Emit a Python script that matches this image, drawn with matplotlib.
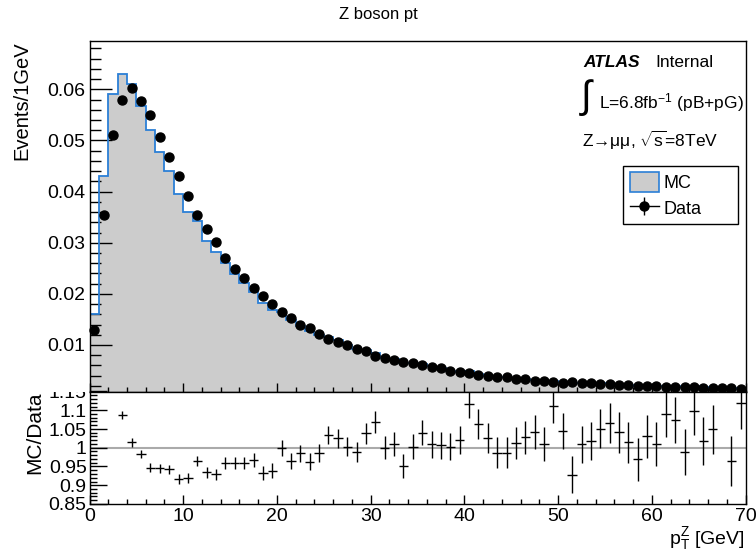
import numpy as np
import matplotlib
matplotlib.use("Agg")
import matplotlib.pyplot as plt
from matplotlib.patches import Patch, Rectangle
from matplotlib.lines import Line2D
from matplotlib.ticker import MultipleLocator, FixedLocator, FixedFormatter

plt.rcParams['font.family'] = ['Liberation Sans', 'DejaVu Sans']
plt.rcParams['mathtext.fontset'] = 'custom'
plt.rcParams['mathtext.rm'] = 'Liberation Sans'
plt.rcParams['mathtext.it'] = 'Liberation Sans:italic'
plt.rcParams['mathtext.bf'] = 'Liberation Sans:bold'

# --- binning: 1 GeV bins from 0 to 70 ---
bin_edges = np.arange(0, 71, 1)
bin_centers = bin_edges[:-1] + 0.5

# data (normalised events / 1 GeV)
data_vals = [
    0.0129, 0.0355, 0.0511, 0.0579, 0.0602, 0.0578, 0.0549, 0.0506, 0.0467, 0.0431,
    0.0392, 0.0355, 0.0326, 0.0302, 0.0271, 0.0249, 0.0231, 0.0211, 0.0196, 0.0180,
    0.0165, 0.0153, 0.0140, 0.0133, 0.0122, 0.0112, 0.0106, 0.0099, 0.0093, 0.0088,
    0.0079, 0.0075, 0.0071, 0.0067, 0.0065, 0.0060, 0.0057, 0.0054, 0.0050, 0.0047,
    0.0045, 0.0041, 0.0039, 0.0037, 0.0037, 0.0034, 0.0033, 0.0030, 0.0030, 0.0027,
    0.0026, 0.0027, 0.0026, 0.0025, 0.0024, 0.0023, 0.0022, 0.0021, 0.0020, 0.0020,
    0.0019, 0.0018, 0.0018, 0.0017, 0.0017, 0.0016, 0.0016, 0.0015, 0.0015, 0.0014,
]

# MC histogram
mc_vals = [
    0.0160, 0.0431, 0.0591, 0.0630, 0.0610, 0.0568, 0.0520, 0.0478, 0.0440, 0.0395,
    0.0361, 0.0343, 0.0304, 0.0281, 0.0260, 0.0239, 0.0222, 0.0204, 0.0183, 0.0169,
    0.0165, 0.0148, 0.0138, 0.0128, 0.0120, 0.0116, 0.0109, 0.0099, 0.0092, 0.0091,
    0.0084, 0.0075, 0.0072, 0.0064, 0.0065, 0.0062, 0.0058, 0.0054, 0.0050, 0.0048,
    0.0050, 0.0044, 0.0040, 0.00365, 0.00365, 0.0034, 0.0034, 0.0031, 0.0030, 0.0030,
    0.0027, 0.0025, 0.0026, 0.0025, 0.0025, 0.0025, 0.0023, 0.0021, 0.0019, 0.0021,
    0.0019, 0.0020, 0.0019, 0.0017, 0.0019, 0.0016, 0.0017, 0.0018, 0.0014, 0.0016,
]

# MC/Data ratio and its error
ratio_vals = [
    1.240, 1.214, 1.157, 1.088, 1.014, 0.983, 0.947, 0.945, 0.943, 0.916,
    0.920, 0.965, 0.934, 0.929, 0.959, 0.959, 0.959, 0.967, 0.932, 0.939,
    1.000, 0.965, 0.985, 0.963, 0.985, 1.034, 1.025, 1.003, 0.989, 1.038,
    1.069, 1.000, 1.010, 0.951, 1.003, 1.040, 1.009, 1.006, 1.003, 1.020,
    1.116, 1.062, 1.025, 0.987, 0.987, 1.012, 1.028, 1.043, 1.010, 1.112,
    1.045, 0.928, 1.009, 1.018, 1.050, 1.066, 1.041, 1.014, 0.969, 1.030,
    1.009, 1.089, 1.074, 0.989, 1.097, 1.017, 1.049, 1.230, 0.965, 1.118,
]
ratio_err = [
    0.006, 0.006, 0.006, 0.011, 0.011, 0.011, 0.011, 0.012, 0.012, 0.013,
    0.013, 0.013, 0.014, 0.015, 0.015, 0.016, 0.017, 0.018, 0.018, 0.019,
    0.021, 0.021, 0.022, 0.023, 0.024, 0.025, 0.026, 0.026, 0.027, 0.028,
    0.030, 0.031, 0.031, 0.032, 0.033, 0.034, 0.035, 0.036, 0.036, 0.037,
    0.038, 0.040, 0.040, 0.042, 0.042, 0.043, 0.044, 0.045, 0.046, 0.047,
    0.048, 0.050, 0.050, 0.051, 0.052, 0.053, 0.054, 0.055, 0.057, 0.058,
    0.059, 0.060, 0.061, 0.062, 0.063, 0.064, 0.065, 0.066, 0.067, 0.068,
]

y_ticks_top = [0.01, 0.02, 0.03, 0.04, 0.05, 0.06]
y_ticklabels_top = ["0.01", "0.02", "0.03", "0.04", "0.05", "0.06"]
y_ticks_ratio = [0.85, 0.9, 0.95, 1.0, 1.05, 1.1, 1.15]
y_ticklabels_ratio = ["0.85", "0.9", "0.95", "1", "1.05", "1.1", "1.15"]

# --- canvas layout (pixel helpers) ---
W, H = 756, 551
def fx(x):
    return x / W
def fy(y):
    return 1 - y / H

fig = plt.figure(figsize=(W / 100, H / 100), dpi=100)
fig.patch.set_facecolor("white")

x0, x1 = 89.5, 745.5
top_y0, top_y1 = 41.3, 391.5
rat_y1 = 504.0
ax = fig.add_axes([fx(x0), fy(top_y1), (x1 - x0) / W, (top_y1 - top_y0) / H])
rax = fig.add_axes([fx(x0), fy(rat_y1), (x1 - x0) / W, (rat_y1 - top_y1) / H])

mc_fill = "#cccccc"
mc_line = "#2b7fd6"

# --- top pad ---
ax.stairs(mc_vals, bin_edges, fill=True, color=mc_fill, zorder=1)
ax.stairs(mc_vals, bin_edges, color=mc_line, lw=1.3, zorder=2)
ax.plot(bin_centers, data_vals, 'o', color='black', ms=6.5, zorder=3, clip_on=False)

ax.set_xlim(0, 70)
ax.set_ylim(0.0009, 0.0694)
ax.yaxis.set_major_locator(FixedLocator(y_ticks_top))
ax.yaxis.set_major_formatter(FixedFormatter(y_ticklabels_top))
ax.yaxis.set_minor_locator(MultipleLocator(0.002))
ax.xaxis.set_major_locator(MultipleLocator(10))
ax.xaxis.set_minor_locator(MultipleLocator(2))
ax.tick_params(axis='y', which='major', direction='in', length=15.5, width=1,
               labelsize=14, pad=3)
ax.tick_params(axis='y', which='minor', direction='in', length=7.7, width=1)
ax.tick_params(axis='x', which='major', direction='in', length=6.7, width=1,
               labelbottom=False)
ax.tick_params(axis='x', which='minor', direction='in', length=3.4, width=1)
for sp in ax.spines.values():
    sp.set_linewidth(1)

# --- ratio pad ---
rax.axhline(1.0, color='#aaaaaa', lw=1.5, zorder=1)
rax.errorbar(bin_centers, ratio_vals, xerr=0.5, yerr=ratio_err, fmt='none',
             ecolor='black', elinewidth=1, capsize=0, zorder=2)
rax.set_xlim(0, 70)
rax.set_ylim(0.85, 1.15)
rax.yaxis.set_major_locator(FixedLocator(y_ticks_ratio))
rax.yaxis.set_major_formatter(FixedFormatter(y_ticklabels_ratio))
rax.yaxis.set_minor_locator(MultipleLocator(0.01))
rax.xaxis.set_major_locator(MultipleLocator(10))
rax.xaxis.set_minor_locator(MultipleLocator(2))
rax.tick_params(axis='y', which='major', direction='in', length=12, width=1,
                labelsize=14, pad=2)
rax.tick_params(axis='y', which='minor', direction='in', length=5, width=1)
rax.tick_params(axis='x', which='major', direction='in', length=6.7, width=1,
                labelsize=14, pad=3)
rax.tick_params(axis='x', which='minor', direction='in', length=3.4, width=1)
for sp in rax.spines.values():
    sp.set_linewidth(1)

# upper pad hides the top of the "1.15" label
fig.add_artist(Rectangle((0, fy(top_y1)), fx(87), fy(370) - fy(top_y1),
                         transform=fig.transFigure, facecolor='white',
                         edgecolor='none', zorder=10))

# --- labels ---
fig.text(fx(378), fy(14), "Z boson pt", ha='center', va='center', fontsize=12)
fig.text(fx(21.5), fy(41.5), "Events/1GeV", rotation=90, ha='center', va='top',
         fontsize=14.5)
fig.text(fx(35), fy(392), "MC/Data", rotation=90, ha='center', va='top',
         fontsize=15, zorder=11)
fig.text(fx(745), fy(539), r"p$_{\mathrm{T}}^{\mathrm{Z}}$ [GeV]", ha='right',
         va='center', fontsize=14)

# ATLAS label
fig.text(fx(583), fy(62.7), "ATLAS", fontweight='bold', fontstyle='italic',
         ha='left', va='center', fontsize=12.5)
fig.text(fx(655.7), fy(62.7), "Internal", ha='left', va='center', fontsize=12.5)
fig.text(fx(586), fy(98), "\u222b", ha='center', va='center', fontsize=28)
fig.text(fx(599), fy(103), r"L=6.8fb$^{\mathrm{-1}}$ (pB+pG)", ha='left',
         va='center', fontsize=12.5)
fig.text(fx(582), fy(140), r"Z→μμ, $\sqrt{\mathrm{s}}$=8TeV",
         ha='left', va='center', fontsize=12.5)

# --- legend (ROOT-style fixed box) ---
fig.add_artist(Rectangle((fx(623.3), fy(224)), fx(737.7) - fx(623.3),
                         fy(166) - fy(224), transform=fig.transFigure,
                         facecolor='white', edgecolor='black', lw=1, zorder=4))
h_mc = Patch(facecolor=mc_fill, edgecolor=mc_line, lw=1.2)
h_data = (Line2D([0], [0], color='black', lw=1, marker='o', ms=6.5),
          Line2D([0], [0], ls='none', color='black', marker='|', ms=13, mew=1))
leg = fig.legend([h_mc, h_data], ["MC", "Data"], loc='upper left',
                 bbox_to_anchor=(fx(623.3), fy(166)), bbox_transform=fig.transFigure,
                 fontsize=13, frameon=False, borderpad=0.35, handlelength=1.6,
                 handleheight=1.3, handletextpad=0.3, labelspacing=0.35,
                 borderaxespad=0)
leg.set_zorder(5)

fig.savefig("out.png", dpi=100)
